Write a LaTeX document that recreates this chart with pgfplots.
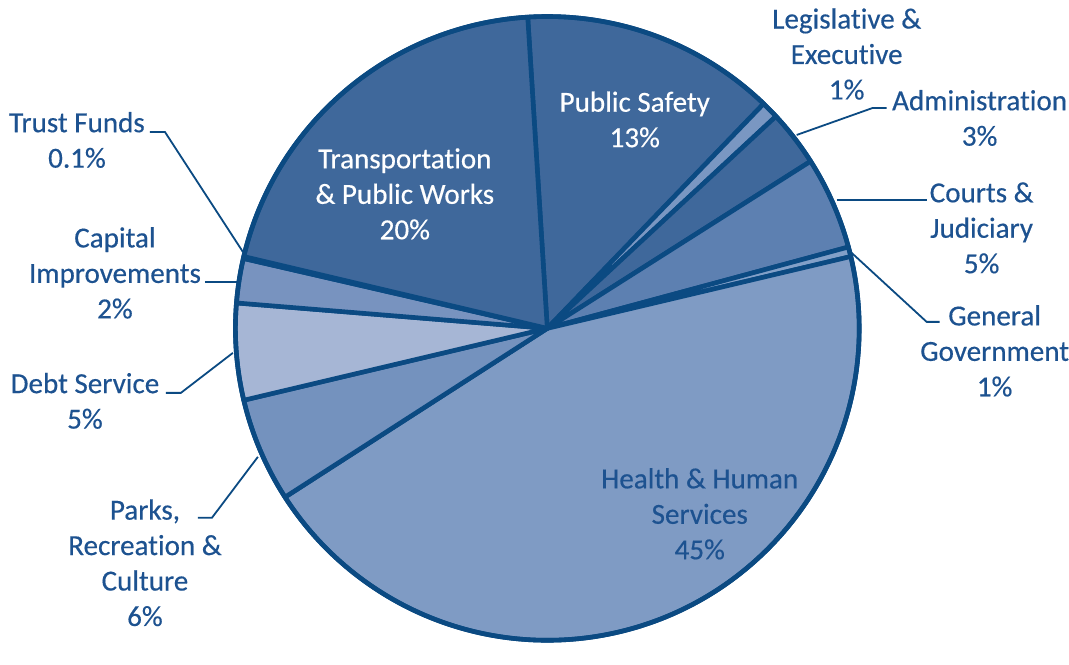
\documentclass[border=0pt]{standalone}
\usepackage{pgfplots}
\usepackage{pgfplotstable}
\pgfplotsset{compat=1.18}
\usepackage{fontspec}
\setmainfont{Carlito}[Ligatures=NoCommon, FakeBold=0.4, AutoFakeBold=0.4]
\definecolor{navy}{HTML}{0B4A82}
\definecolor{lblue}{HTML}{1D5290}
\definecolor{cdark}{HTML}{3F689B}
\definecolor{cleg}{HTML}{7A97C2}
\definecolor{ccourt}{HTML}{5D80B1}
\definecolor{cgg}{HTML}{82A0C8}
\definecolor{chealth}{HTML}{7F9BC4}
\definecolor{cparks}{HTML}{7492BE}
\definecolor{cdebt}{HTML}{A6B6D5}
\definecolor{ccap}{HTML}{7893BF}
\tikzset{lab/.style={font=\fontsize{14.6}{17.8}\selectfont, align=center, inner sep=0pt, text=lblue}}

\pgfplotstableread{
label value color
PublicSafety 13.2 cdark
Legislative 0.9 cleg
Administration 2.9 cdark
Courts 4.8 ccourt
GeneralGov 0.5 cgg
Health 44.6 chealth
Parks 5.4 cparks
Debt 5.0 cdebt
Capital 2.3 ccap
Trust 0.1 cdark
Transportation 20.3 cdark
}\piedata

\begin{document}
\begin{tikzpicture}
\begin{axis}[
  scale only axis, width=534.5bp, height=321bp,
  xmin=0, xmax=1069, ymin=0, ymax=642, y dir=reverse,
  hide axis, clip=false,
]
\pgfplotsextra{
  \path (axis cs:0,0) rectangle (axis cs:1069,642);
  \gdef\curang{93.6}
  \foreach \i in {0,...,10}{
    \pgfplotstablegetelem{\i}{value}\of\piedata
    \pgfmathsetmacro\endang{\curang-3.6*\pgfplotsretval}
    \pgfplotstablegetelem{\i}{color}\of\piedata
    \edef\col{\pgfplotsretval}
    \filldraw[fill=\col, draw=navy, line width=2.3bp, line join=round]
      (axis cs:547.5,328.5) -- +(\curang:156bp) arc[start angle=\curang, end angle=\endang, radius=156bp] -- cycle;
    \xdef\curang{\endang}
  }
  \draw[navy, line width=2.3bp] (axis cs:547.5,328.5) circle[radius=156bp];
  % leader lines
  \draw[navy, line width=0.9bp] (axis cs:150,132) -- (axis cs:165,132) -- (axis cs:243,252);
  \draw[navy, line width=0.9bp] (axis cs:205,282) -- (axis cs:238,282);
  \draw[navy, line width=0.9bp] (axis cs:166,393) -- (axis cs:181,393) -- (axis cs:233,353);
  \draw[navy, line width=0.9bp] (axis cs:198,518) -- (axis cs:212,518) -- (axis cs:258,457);
  \draw[navy, line width=0.9bp] (axis cs:797,135) -- (axis cs:873,108) -- (axis cs:887,108);
  \draw[navy, line width=0.9bp] (axis cs:837,200) -- (axis cs:927,200);
  \draw[navy, line width=0.9bp] (axis cs:852,253) -- (axis cs:927,322) -- (axis cs:940,322);
  % labels
  \node[lab, text=white] at (axis cs:635,119.5) {Public Safety\\13\%};
  \node[lab, text=white] at (axis cs:405,194) {Transportation\\\& Public Works\\20\%};
  \node[lab] at (axis cs:700,514) {Health \& Human\\Services\\45\%};
  \node[lab] at (axis cs:847,54) {Legislative \&\\Executive\\1\%};
  \node[lab] at (axis cs:980,118) {Administration\\3\%};
  \node[lab] at (axis cs:982,228) {Courts \&\\Judiciary\\5\%};
  \node[lab] at (axis cs:995,351) {General\\Government\\1\%};
  \node[lab] at (axis cs:77,140) {Trust Funds\\0.1\%};
  \node[lab] at (axis cs:115,273) {Capital\\Improvements\\2\%};
  \node[lab] at (axis cs:85,401) {Debt Service\\5\%};
  \node[lab] at (axis cs:145,563) {Parks,\\Recreation \&\\Culture\\6\%};
}
\end{axis}
\end{tikzpicture}
\end{document}
